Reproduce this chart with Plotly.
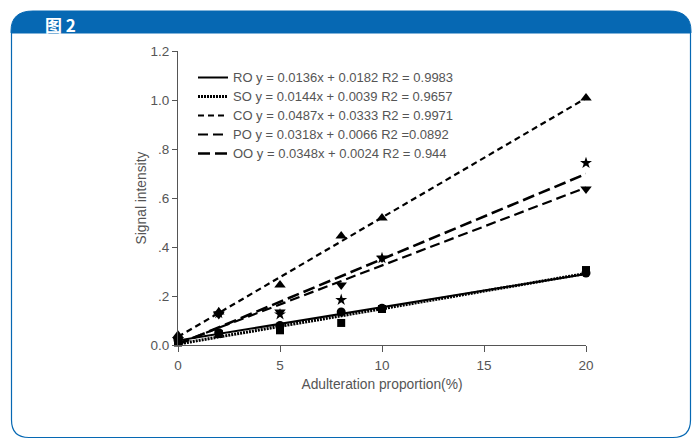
import plotly.graph_objects as go

# ---- data ----
x_props = [0, 2, 5, 8, 10, 20]
series_names = ["RO", "SO", "CO", "PO", "OO"]
ro_vals = [0.02, 0.05, 0.08, 0.135, 0.15, 0.294]
so_vals = [0.01, 0.045, 0.06, 0.09, 0.147, 0.306]
co_vals = [0.04, 0.135, 0.245, 0.445, 0.518, 1.008]
po_vals = [0.02, 0.125, 0.135, 0.245, 0.355, 0.637]
oo_vals = [0.025, 0.13, 0.125, 0.184, 0.355, 0.743]
slopes = [0.0136, 0.0144, 0.0487, 0.0318, 0.0348]
intercepts = [0.0182, 0.0039, 0.0333, 0.0066, 0.0024]
r2_text = ["R2 = 0.9983", "R2 = 0.9657", "R2 = 0.9971", "R2 =0.0892", "R2 = 0.944"]
fit_x = [0, 20]
y_tickvals = [0.0, 0.2, 0.4, 0.6, 0.8, 1.0, 1.2]
y_ticktext = ["0.0", ".2", ".4", ".6", ".8", "1.0", "1.2"]
x_tickvals = [0, 5, 10, 15, 20]

all_vals = [ro_vals, so_vals, co_vals, po_vals, oo_vals]
symbols = ["circle", "square", "triangle-up", "triangle-down", "star"]
marker_sizes = [9, 8, 10, 10, 9]
dashes = ["solid", "2px,1px", "6px,4px", "10px,5px", "12px,5px"]
widths = [2, 3, 2.2, 2.2, 2.6]

W, H = 699, 440
L, R, T, B = 178, 586, 51, 345
TXT = "#555"


def px(x):
    return (x - L) / (R - L)


def py(y):
    return (B - y) / (B - T)


fig = go.Figure()

for i, name in enumerate(series_names):
    m, b = slopes[i], intercepts[i]
    label = f"<span style='font-size:13px'>{name} y = {m}x + {b:.4f} {r2_text[i]}</span>"
    fig.add_trace(go.Scatter(
        x=fit_x, y=[m * v + b for v in fit_x], mode="lines",
        line=dict(color="black", width=widths[i], dash=dashes[i]),
        name=label, showlegend=True, cliponaxis=False, hoverinfo="skip"))

for i, name in enumerate(series_names):
    fig.add_trace(go.Scatter(
        x=x_props, y=all_vals[i], mode="markers",
        marker=dict(symbol=symbols[i], size=marker_sizes[i], color="black"),
        name=name, showlegend=False, cliponaxis=False))

blue = "#0668B3"


def P(x, y):
    return f"{px(x):.5f},{py(y):.5f}"


header = (f"M {P(11,33)} L {P(11,31)} Q {P(11,11)} {P(33,11)} "
          f"L {P(669,11)} Q {P(691,11)} {P(691,31)} L {P(691,33)} Z")
body = (f"M {P(11.5,33)} L {P(11.5,420)} Q {P(11.5,437.5)} {P(29,437.5)} "
        f"L {P(673,437.5)} Q {P(690.5,437.5)} {P(690.5,420)} L {P(690.5,33)}")

fig.update_layout(
    width=W, height=H,
    margin=dict(l=L, r=W - R, t=T, b=H - B, autoexpand=False),
    paper_bgcolor="white", plot_bgcolor="white",
    font=dict(family="Liberation Sans, Arial, sans-serif", color=TXT, size=13),
    showlegend=True,
    legend=dict(x=px(193), y=py(63), xanchor="left", yanchor="top",
                bgcolor="rgba(0,0,0,0)", font=dict(size=10.3, color=TXT),
                itemwidth=30, tracegroupgap=0, traceorder="normal"),
    shapes=[
        dict(type="path", xref="paper", yref="paper", path=header,
             fillcolor=blue, line=dict(color=blue, width=1), layer="below"),
        dict(type="path", xref="paper", yref="paper", path=body,
             line=dict(color=blue, width=1.2), layer="below"),
    ],
    annotations=[
        dict(text="<b>图 2</b>", xref="paper", yref="paper", x=px(43), y=py(25),
             xanchor="left", yanchor="middle", showarrow=False,
             font=dict(family="Noto Sans CJK SC, Liberation Sans", size=17, color="white")),
    ],
)

fig.update_xaxes(range=[0, 20], tickvals=x_tickvals, showgrid=False, zeroline=False,
                 showline=True, linecolor=TXT, linewidth=1, ticks="outside",
                 ticklen=6, tickcolor=TXT, tickfont=dict(size=13.5, color=TXT),
                 ticklabelstandoff=2, automargin=False,
                 title=dict(text="Adulteration proportion(%)", font=dict(size=13.8, color=TXT),
                            standoff=7))
fig.update_yaxes(range=[0, 1.2], tickvals=y_tickvals, ticktext=y_ticktext, showgrid=False,
                 zeroline=False, showline=True, linecolor=TXT, linewidth=1,
                 ticks="outside", ticklen=5, tickcolor=TXT,
                 tickfont=dict(size=13.5, color=TXT), automargin=False,
                 title=dict(text="Signal intensity", font=dict(size=13.8, color=TXT),
                            standoff=0))

fig.write_html("out.html", config={"displayModeBar": False},
               post_script="document.body.style.margin='0';document.body.style.overflow='hidden';")
